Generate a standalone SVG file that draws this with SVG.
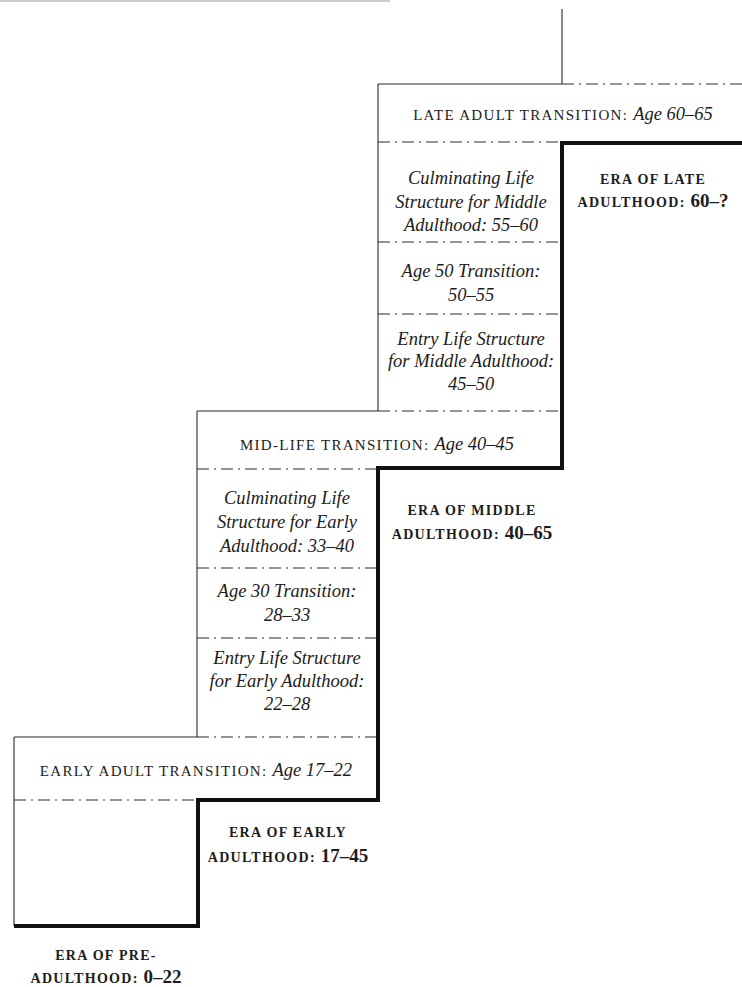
<svg xmlns="http://www.w3.org/2000/svg" width="742" height="987" viewBox="0 0 742 987">
<style>
.bg{fill:#fff}
.thin{stroke:#2a2a2a;stroke-width:1.1;fill:none}
.dd{stroke:#2a2a2a;stroke-width:1.1;fill:none;stroke-dasharray:12 5 2 5}
.thick{stroke:#111;stroke-width:4;fill:none;stroke-linejoin:miter}
text{font-family:"Liberation Serif","Times New Roman",serif;fill:#1c1c1c;text-anchor:middle}
.it{font-style:italic;font-size:18.5px}
.sc{font-size:15px;letter-spacing:1.3px}
.sci{font-style:italic;font-size:18.5px;letter-spacing:0}
.era{font-size:14px;font-weight:bold;letter-spacing:1.3px}
.num{font-size:19px;letter-spacing:0;font-weight:bold}
</style>
<rect class="bg" x="0" y="0" width="742" height="987"/>
<line x1="0" y1="1" x2="390" y2="1" stroke="#bbbbbb" stroke-width="1.5"/>
<g id="lines">
  <line class="thin" x1="562" y1="9" x2="562" y2="84"/>
  <line class="thin" x1="378" y1="84" x2="562" y2="84"/>
  <line class="dd" x1="562" y1="84" x2="742" y2="84"/>
  <line class="thin" x1="378" y1="84" x2="378" y2="411"/>
  <line class="dd" x1="378" y1="142" x2="562" y2="142"/>
  <line class="dd" x1="378" y1="242" x2="562" y2="242"/>
  <line class="dd" x1="378" y1="314" x2="562" y2="314"/>
  <line class="thin" x1="197" y1="411" x2="378" y2="411"/>
  <line class="dd" x1="378" y1="411" x2="562" y2="411"/>
  <line class="thin" x1="197" y1="411" x2="197" y2="737"/>
  <line class="dd" x1="197" y1="469" x2="378" y2="469"/>
  <line class="dd" x1="197" y1="568" x2="378" y2="568"/>
  <line class="dd" x1="197" y1="638" x2="378" y2="638"/>
  <line class="thin" x1="14" y1="737" x2="197" y2="737"/>
  <line class="dd" x1="197" y1="737" x2="378" y2="737"/>
  <line class="thin" x1="14" y1="737" x2="14" y2="926"/>
  <line class="dd" x1="14" y1="800" x2="198" y2="800"/>
  <path class="thick" d="M742,143 H562 V468 H378 V800 H198 V926 H14"/>
</g>
<g id="late-adult-transition">
  <text x="563" y="120"><tspan class="sc">LATE ADULT TRANSITION: </tspan><tspan class="sci">Age 60–65</tspan></text>
</g>
<g id="culminating-middle">
  <text class="it" x="471" y="184">Culminating Life</text>
  <text class="it" x="471" y="208">Structure for Middle</text>
  <text class="it" x="471" y="231">Adulthood: 55–60</text>
</g>
<g id="age-50-transition">
  <text class="it" x="471" y="277">Age 50 Transition:</text>
  <text class="it" x="471" y="301">50–55</text>
</g>
<g id="entry-middle">
  <text class="it" x="471" y="345">Entry Life Structure</text>
  <text class="it" x="471" y="367">for Middle Adulthood:</text>
  <text class="it" x="471" y="390">45–50</text>
</g>
<g id="era-late">
  <text class="era" x="653" y="184">ERA OF LATE</text>
  <text x="653" y="207"><tspan class="era">ADULTHOOD: </tspan><tspan class="num">60–?</tspan></text>
</g>
<g id="mid-life-transition">
  <text x="377" y="450"><tspan class="sc">MID-LIFE TRANSITION: </tspan><tspan class="sci">Age 40–45</tspan></text>
</g>
<g id="culminating-early">
  <text class="it" x="287" y="504">Culminating Life</text>
  <text class="it" x="287" y="528">Structure for Early</text>
  <text class="it" x="287" y="552">Adulthood: 33–40</text>
</g>
<g id="age-30-transition">
  <text class="it" x="287" y="597">Age 30 Transition:</text>
  <text class="it" x="287" y="621">28–33</text>
</g>
<g id="entry-early">
  <text class="it" x="287" y="664">Entry Life Structure</text>
  <text class="it" x="287" y="687">for Early Adulthood:</text>
  <text class="it" x="287" y="710">22–28</text>
</g>
<g id="era-middle">
  <text class="era" x="472" y="515">ERA OF MIDDLE</text>
  <text x="472" y="539"><tspan class="era">ADULTHOOD: </tspan><tspan class="num">40–65</tspan></text>
</g>
<g id="early-adult-transition">
  <text x="196" y="776"><tspan class="sc">EARLY ADULT TRANSITION: </tspan><tspan class="sci">Age 17–22</tspan></text>
</g>
<g id="era-early">
  <text class="era" x="288" y="837">ERA OF EARLY</text>
  <text x="288" y="862"><tspan class="era">ADULTHOOD: </tspan><tspan class="num">17–45</tspan></text>
</g>
<g id="era-pre">
  <text class="era" x="106" y="960">ERA OF PRE-</text>
  <text x="106" y="983"><tspan class="era">ADULTHOOD: </tspan><tspan class="num">0–22</tspan></text>
</g>
</svg>
